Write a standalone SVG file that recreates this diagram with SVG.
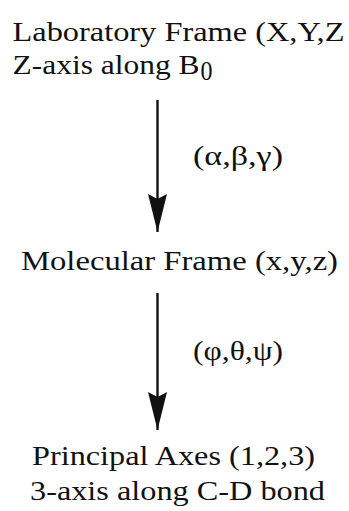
<svg xmlns="http://www.w3.org/2000/svg" width="349" height="511" viewBox="0 0 349 511">
<style>
text { font-family: "Liberation Serif", "Times New Roman", "DejaVu Serif", serif; font-size: 28px; fill: #111; }
.conn { stroke: #111; stroke-width: 2.4; fill: none; }
</style>
<defs>
<marker id="ah" markerUnits="userSpaceOnUse" orient="auto" refX="0" refY="0" markerWidth="40" markerHeight="20" overflow="visible">
<path d="M0,0 L-38,-9.5 L-33,0 L-38,9.5 Z" fill="#111"/>
</marker>
</defs>
<rect width="349" height="511" fill="#fff"/>
<g id="lab" font-family="Liberation Serif, Times New Roman, DejaVu Serif, serif">
<text x="12.5" y="41" textLength="332" lengthAdjust="spacingAndGlyphs">Laboratory Frame (X,Y,Z</text>
<text x="12.5" y="74" textLength="187" lengthAdjust="spacingAndGlyphs">Z-axis along B</text>
<text x="200.5" y="80" font-size="19" textLength="12" lengthAdjust="spacingAndGlyphs">0</text>
</g>
<g id="mol" font-family="Liberation Serif, Times New Roman, DejaVu Serif, serif">
<text x="21" y="270" textLength="317" lengthAdjust="spacingAndGlyphs">Molecular Frame (x,y,z)</text>
</g>
<g id="pa" font-family="Liberation Serif, Times New Roman, DejaVu Serif, serif">
<text x="32" y="465" textLength="283" lengthAdjust="spacingAndGlyphs">Principal Axes (1,2,3)</text>
<text x="30" y="500" textLength="295" lengthAdjust="spacingAndGlyphs">3-axis along C-D bond</text>
</g>
<g id="connectors">
<line class="conn" x1="157.5" y1="100" x2="157.5" y2="232" marker-end="url(#ah)"/>
<line class="conn" x1="157.5" y1="293" x2="157.5" y2="430" marker-end="url(#ah)"/>
</g>
<g id="labels" font-family="Liberation Serif, Times New Roman, DejaVu Serif, serif">
<text x="193" y="165" textLength="90" lengthAdjust="spacingAndGlyphs">(α,β,γ)</text>
<text x="193" y="360" textLength="90" lengthAdjust="spacingAndGlyphs">(φ,θ,ψ)</text>
</g>
</svg>
